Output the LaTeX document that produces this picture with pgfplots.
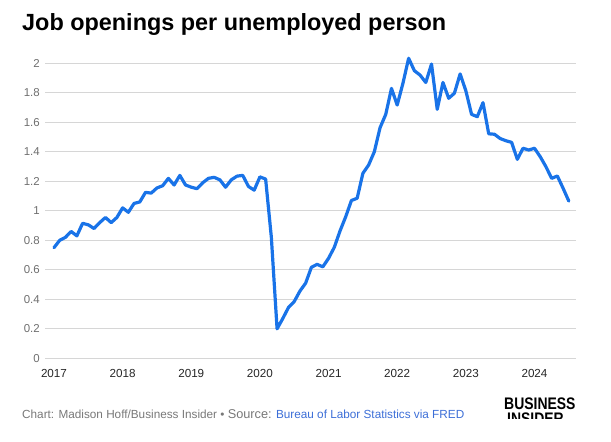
\documentclass[border=0pt]{standalone}
\usepackage{fontspec}
\setmainfont{Liberation Sans}
\usepackage{pgfplots}
\pgfplotsset{compat=1.18}
\definecolor{lineblue}{RGB}{25,115,232}
\definecolor{gridgray}{RGB}{214,214,214}
\definecolor{labgray}{RGB}{110,110,110}
\definecolor{footgray}{RGB}{120,120,120}
\definecolor{linkblue}{RGB}{60,110,215}
\begin{document}
\begin{tikzpicture}[x=1bp,y=1bp]
\useasboundingbox (0,0) rectangle (611,-442);
\node[anchor=base west, inner sep=0pt] at (22,-31) {\fontsize{23.5}{28}\selectfont\bfseries Job openings per unemployed person};
\begin{axis}[
  at={(45bp,-358.3bp)}, anchor=south west,
  scale only axis, width=531bp, height=295bp,
  xmin=-1.57, xmax=91.26, ymin=0, ymax=2,
  clip=false,
  axis line style={draw=none},
  major tick length=0pt,
  ytick={0,0.2,0.4,0.6,0.8,1,1.2,1.4,1.6,1.8,2},
  yticklabels={0,0.2,0.4,0.6,0.8,1,1.2,1.4,1.6,1.8,2},
  xtick={0,12,24,36,48,60,72,84},
  xticklabels={2017,2018,2019,2020,2021,2022,2023,2024},
  ymajorgrids,
  grid style={draw=gridgray, line width=1bp},
  yticklabel style={font=\fontsize{11.5}{12}\selectfont, text=labgray, anchor=east, inner sep=0pt, xshift=-5bp},
  xticklabel style={font=\fontsize{11.7}{12}\selectfont, text=black!85, anchor=north, inner sep=0pt, yshift=-10.5bp},
]
\addplot[color=lineblue, line width=3.2bp, line join=round, line cap=round] table[x=i, y=v] {
i v
0 0.75
1 0.80
2 0.82
3 0.86
4 0.83
5 0.915
6 0.905
7 0.88
8 0.92
9 0.955
10 0.92
11 0.955
12 1.02
13 0.99
14 1.05
15 1.06
16 1.125
17 1.12
18 1.155
19 1.17
20 1.22
21 1.175
22 1.24
23 1.175
24 1.16
25 1.15
26 1.19
27 1.22
28 1.227
29 1.21
30 1.16
31 1.21
32 1.235
33 1.24
34 1.165
35 1.14
36 1.23
37 1.215
38 0.82
39 0.20
40 0.27
41 0.345
42 0.385
43 0.456
44 0.51
45 0.617
46 0.637
47 0.62
48 0.678
49 0.752
50 0.863
51 0.96
52 1.07
53 1.085
54 1.254
55 1.31
56 1.40
57 1.563
58 1.654
59 1.83
60 1.717
61 1.864
62 2.034
63 1.95
64 1.92
65 1.87
66 1.995
67 1.688
68 1.87
69 1.763
70 1.797
71 1.928
72 1.814
73 1.654
74 1.638
75 1.733
76 1.522
77 1.519
78 1.49
79 1.475
80 1.464
81 1.349
82 1.424
83 1.412
84 1.424
85 1.367
86 1.299
87 1.22
88 1.236
89 1.153
90 1.066
};
\end{axis}
\begin{scope}
\clip (0,-385) rectangle (611,-418);
\node[anchor=base west, inner sep=0pt] at (22,-418) {\fontsize{11.8}{12}\selectfont\color{footgray}Chart: Madison Hoff/Business Insider \textbullet{} {\fontsize{12.8}{12}\selectfont Source:} \color{linkblue}Bureau of Labor Statistics via FRED};
\node[anchor=north west, inner sep=0pt] at (504,-398) {\scalebox{1}[1.2]{\fontsize{14}{15}\selectfont\bfseries BUSINESS}};
\node[anchor=north west, inner sep=0pt] at (507,-413) {\scalebox{1}[1.2]{\fontsize{14}{15}\selectfont\bfseries INSIDER}};
\end{scope}
\end{tikzpicture}
\end{document}
